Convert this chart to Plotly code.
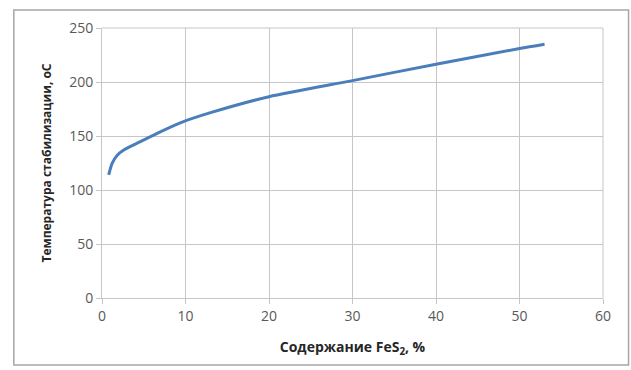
import plotly.graph_objects as go

fes2_content = [0.8, 1.2, 1.8, 2.6, 4.0, 6.6, 9.3, 13.0, 20.0, 30.0, 40.0, 50.0, 53.0]
stab_temp = [114, 124.5, 132, 137, 142.5, 152.5, 162, 171.6, 186.4, 201.3, 216.5, 231, 235]

x_ticks = [0, 10, 20, 30, 40, 50, 60]
y_ticks = [0, 50, 100, 150, 200, 250]

FONT = "Open Sans"

fig = go.Figure()
fig.add_trace(go.Scatter(
    x=fes2_content, y=stab_temp, mode="lines",
    line=dict(color="#4a7ebb", width=3, shape="spline", smoothing=0.7),
    showlegend=False, hoverinfo="skip",
))

fig.update_layout(
    width=631, height=370,
    margin=dict(l=101.5, r=27.5, t=28, b=72),
    paper_bgcolor="white", plot_bgcolor="white",
    font=dict(family=FONT, color="#595959", size=13),
    xaxis=dict(
        range=[0, 60], tickvals=x_ticks, ticktext=[str(v) for v in x_ticks],
        showgrid=True, gridcolor="#c6c6c6", gridwidth=1,
        zeroline=False, showline=True, linecolor="#c6c6c6", linewidth=1,
        ticks="outside", ticklen=5, tickcolor="#c6c6c6",
        tickfont=dict(size=14, color="#595959", family=FONT),
        title=dict(text="<b>Содержание FeS<sub>2</sub>, %</b>",
                   font=dict(size=14, color="#262626", family=FONT), standoff=18),
        automargin=False, fixedrange=True,
    ),
    yaxis=dict(
        range=[0, 250], tickvals=y_ticks, ticktext=[str(v) for v in y_ticks],
        showgrid=True, gridcolor="#c6c6c6", gridwidth=1,
        zeroline=False, showline=True, linecolor="#c6c6c6", linewidth=1,
        ticks="outside", ticklen=5, tickcolor="#c6c6c6",
        tickfont=dict(size=14, color="#595959", family=FONT),
        title=dict(text="<b>Температура стабилизации, оС</b>",
                   font=dict(size=12, color="#262626", family=FONT), standoff=14),
        automargin=False, fixedrange=True,
    ),
    shapes=[
        dict(type="rect", xref="paper", yref="paper",
             x0=-0.176, x1=1.051, y0=-0.248, y1=1.067,
             line=dict(color="#a6a6a6", width=1.5), fillcolor="rgba(0,0,0,0)", layer="below"),
        dict(type="line", xref="paper", yref="paper", x0=1, x1=1, y0=0, y1=1,
             line=dict(color="#c6c6c6", width=1)),
        dict(type="line", xref="paper", yref="paper", x0=0, x1=1, y0=1, y1=1,
             line=dict(color="#c6c6c6", width=1)),
    ],
)

fig.write_html("out.html", config={"displayModeBar": False, "staticPlot": True})

# remove the default page margin so the figure sits at the window origin
with open("out.html", "r", encoding="utf-8") as f:
    html = f.read()
html = html.replace("<body>", '<body style="margin:0;padding:0;overflow:hidden">', 1)
with open("out.html", "w", encoding="utf-8") as f:
    f.write(html)
